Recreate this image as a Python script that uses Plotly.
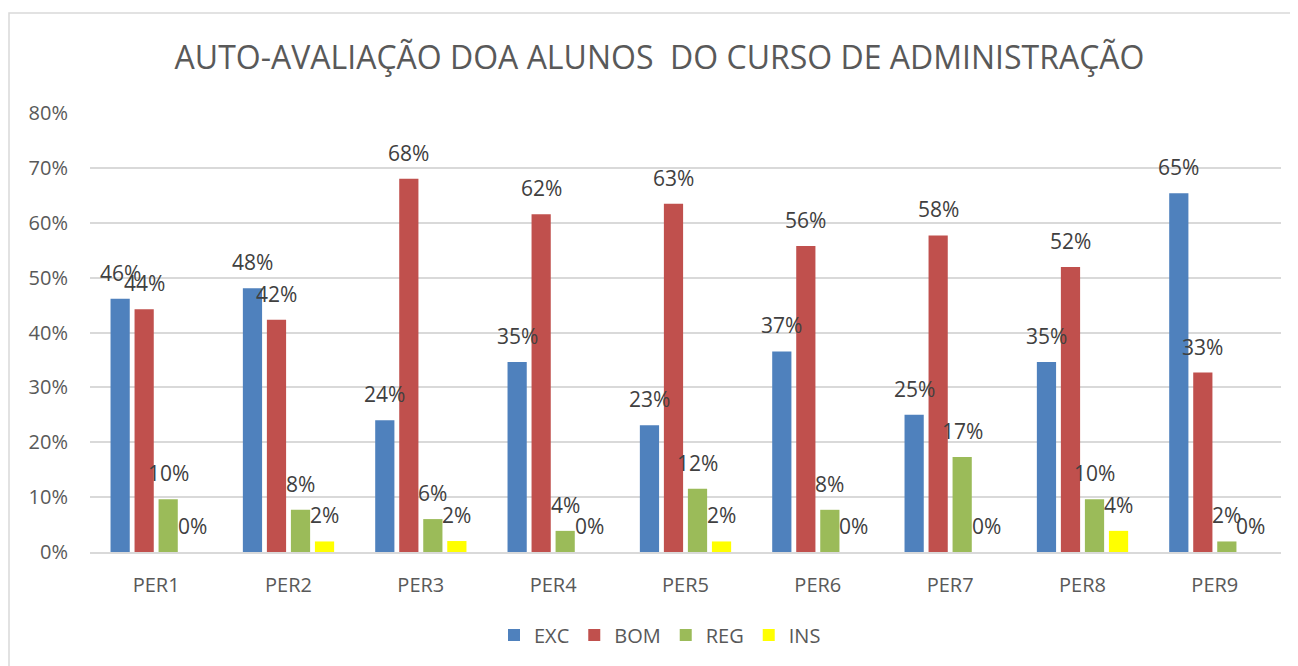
import plotly.graph_objects as go

categories = ["PER1", "PER2", "PER3", "PER4", "PER5", "PER6", "PER7", "PER8", "PER9"]
exc = [0.4615, 0.4808, 0.24, 0.3462, 0.2308, 0.3654, 0.25, 0.3462, 0.6538]
bom = [0.4423, 0.4231, 0.68, 0.6154, 0.6346, 0.5577, 0.5769, 0.5192, 0.3269]
reg = [0.0962, 0.0769, 0.06, 0.0385, 0.1154, 0.0769, 0.1731, 0.0962, 0.0192]
ins = [0.0, 0.0192, 0.02, 0.0, 0.0192, 0.0, 0.0, 0.0385, 0.0]
series_names = ["EXC", "BOM", "REG", "INS"]
series_values = [exc, bom, reg, ins]
colors = ["#4F81BD", "#C0504D", "#9BBB59", "#FFFF00"]

OFF = 8  # page body margin
W, H = 1298 - OFF, 666 - OFF
L, T = 90 - OFF, 113 - OFF
R = W - (1281 - OFF)
B = H - (552 - OFF)
plot_w = W - L - R
plot_h = H - T - B
bargap = 0.274
cat_w = plot_w / len(categories)
slot = cat_w * (1 - bargap) / len(series_names)

def px_x(px):
    return (px - OFF - L) / plot_w

def px_y(py):
    return ((552 - OFF) - (py - OFF)) / plot_h

FONT = "Open Sans"
fig = go.Figure()
for name, vals, col in zip(series_names, series_values, colors):
    fig.add_trace(go.Bar(
        name=name, x=categories, y=vals,
        marker=dict(color=col, line=dict(width=0)),
    ))

annotations = []
for i, vals in enumerate(series_values):
    xs = (i - (len(series_names) - 1) / 2) * slot
    for c, v in zip(categories, vals):
        annotations.append(dict(
            x=c, y=v, xref="x", yref="y", text=f"{round(v*100):.0f}%",
            showarrow=False, xshift=xs, yshift=26, yanchor="middle",
            font=dict(family=FONT, size=21, color="#404040"),
        ))

fig.update_layout(
    width=W, height=H,
    margin=dict(l=L, r=R, t=T, b=B, autoexpand=False),
    paper_bgcolor="white", plot_bgcolor="white",
    barmode="group", bargap=bargap, bargroupgap=0.2,
    title=dict(text="AUTO-AVALIAÇÃO DOA ALUNOS  DO CURSO DE ADMINISTRAÇÃO",
               x=((169 + 1150) / 2 - OFF) / W, xanchor="center",
               y=1 - (58 - OFF) / H, yanchor="middle",
               font=dict(family=FONT, size=32, color="#595959")),
    font=dict(family=FONT, color="#595959"),
    legend=dict(orientation="h", x=px_x(660), xanchor="center",
                y=px_y(635), yanchor="middle",
                font=dict(family=FONT, size=20, color="#595959"),
                itemwidth=30, traceorder="normal"),
    annotations=annotations,
    shapes=[dict(type="rect", xref="paper", yref="paper",
                 x0=px_x(9), x1=px_x(1298 + 30),
                 y0=px_y(666 + 30), y1=px_y(13),
                 line=dict(color="#D9D9D9", width=1.5), layer="below")],
)
fig.update_yaxes(range=[0, 0.8], dtick=0.1, tickformat=".0%",
                 showgrid=True, gridcolor="#D9D9D9", gridwidth=1.5,
                 zeroline=False, showline=False,
                 tickfont=dict(family=FONT, size=20, color="#595959"),
                 ticklabelstandoff=21)
fig.update_xaxes(showline=True, linecolor="#D9D9D9", linewidth=1.5,
                 tickfont=dict(family=FONT, size=20, color="#595959"),
                 ticklabelstandoff=14)

fig.write_html("out.html")
